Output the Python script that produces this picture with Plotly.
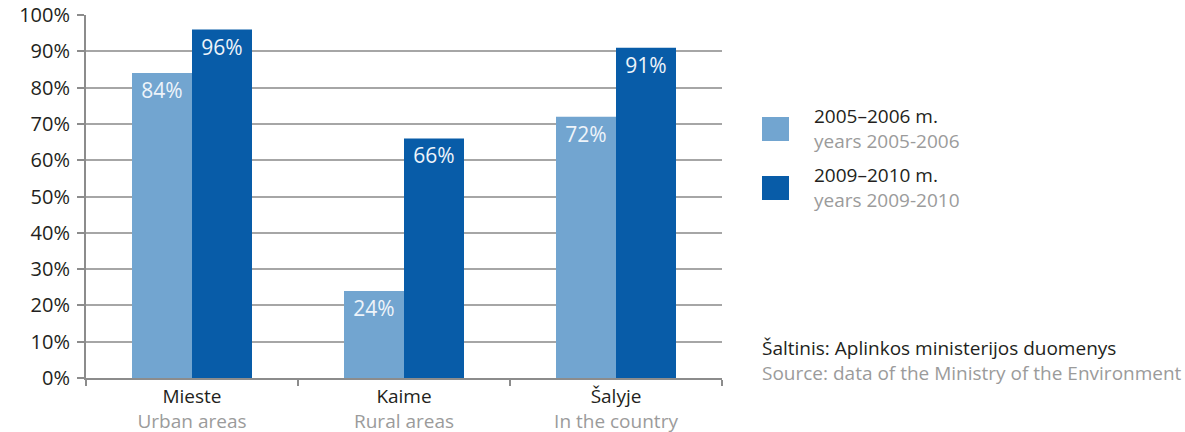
import plotly.graph_objects as go

categories = ["Mieste", "Kaime", "Šalyje"]
categories_en = ["Urban areas", "Rural areas", "In the country"]
series_names = ["2005–2006 m.", "2009–2010 m."]
series_names_en = ["years 2005-2006", "years 2009-2010"]
values_2005 = [84, 24, 72]
values_2009 = [96, 66, 91]
source_lt = "Šaltinis: Aplinkos ministerijos duomenys"
source_en = "Source: data of the Ministry of the Environment"

LIGHT = "#72a5d0"
DARK = "#085ca8"
TXT = "#231f20"
GRAY = "#9b9b9b"
AXIS = "#8c8c8c"
FONT = "Open Sans"
FS = 19

ticktext = [f"{c}<br><span style='color:{GRAY}'>{e}</span>" for c, e in zip(categories, categories_en)]

fig = go.Figure()
for name, vals, col in [(series_names[0], values_2005, LIGHT), (series_names[1], values_2009, DARK)]:
    fig.add_trace(go.Bar(
        x=categories, y=vals, name=name, marker=dict(color=col, line=dict(width=0)),
        text=[f"{v}%" for v in vals], texttemplate="%{text}",
        textposition="inside", insidetextanchor="end",
        textangle=0, constraintext="none",
        textfont=dict(family=FONT, size=21, color="#eef4fa"),
        showlegend=False, hoverinfo="skip",
    ))

fig.update_layout(
    width=1185, height=432,
    margin=dict(l=86, r=463, t=15, b=54, autoexpand=False),
    paper_bgcolor="white", plot_bgcolor="white",
    barmode="group", bargap=0.434, bargroupgap=0,
    font=dict(family=FONT, size=FS, color=TXT),
)
fig.update_yaxes(
    range=[0, 100], dtick=10, ticksuffix="%", automargin=False,
    showline=True, linecolor=AXIS, linewidth=2,
    ticks="outside", ticklen=7, tickcolor=AXIS, tickwidth=2,
    ticklabelstandoff=3,
    showgrid=True, gridcolor="#a6a6a6", gridwidth=1.5,
    zeroline=False, tickfont=dict(family=FONT, size=20, color=TXT),
)
fig.update_xaxes(
    type="category", tickmode="array", tickvals=categories, ticktext=ticktext,
    automargin=False,
    showline=True, linecolor=AXIS, linewidth=2,
    ticks="outside", tickson="boundaries", ticklen=6, tickcolor=AXIS, tickwidth=2,
    tickfont=dict(family=FONT, size=FS, color=TXT),
)

# custom legend
def px_x(p):
    return (p - 86) / 636

def px_y(p):
    return (378 - p) / 363

legend_rows = [(LIGHT, 117, 141, 128), (DARK, 176, 200, 187)]
for i, (col, top, bot, mid) in enumerate(legend_rows):
    fig.add_shape(type="rect", xref="paper", yref="paper",
                  x0=px_x(762), x1=px_x(789), y0=px_y(bot), y1=px_y(top),
                  fillcolor=col, line=dict(width=0))
    fig.add_annotation(xref="paper", yref="paper", x=px_x(812), y=px_y(mid),
                       xanchor="left", yanchor="middle", showarrow=False, align="left",
                       text=f"{series_names[i]}<br><span style='color:{GRAY}'>{series_names_en[i]}</span>",
                       font=dict(family=FONT, size=FS, color=TXT))

fig.add_annotation(xref="paper", yref="paper", x=px_x(760), y=px_y(360.5),
                   xanchor="left", yanchor="middle", showarrow=False, align="left",
                   text=f"{source_lt}<br><span style='color:{GRAY}'>{source_en}</span>",
                   font=dict(family=FONT, size=FS, color=TXT))

fig.write_html("out.html")
